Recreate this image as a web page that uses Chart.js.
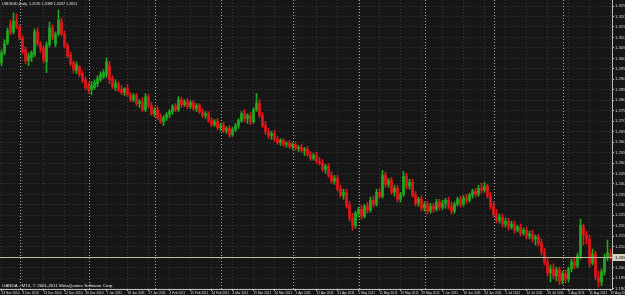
<!DOCTYPE html>
<html><head><meta charset="utf-8">
<script src="https://cdn.jsdelivr.net/npm/chart.js@4/dist/chart.umd.min.js"></script>
<style>html,body{margin:0;padding:0;background:#151515;overflow:hidden}canvas{display:block}</style>
</head><body>
<canvas id="c" width="625" height="295"></canvas>
<script>
const symbolTitle = 'USDSGD,Daily';
const copyright = 'OANDA - MT4, \u00A9 2001-2011 MetaQuotes Software Corp.';
const tickLabels = ['23 Nov 2010','3 Dec 2010','13 Dec 2010','22 Dec 2010','30 Dec 2010','7 Jan 2011','18 Jan 2011','27 Jan 2011','4 Feb 2011','15 Feb 2011','24 Feb 2011','4 Mar 2011','15 Mar 2011','24 Mar 2011','1 Apr 2011','12 Apr 2011','21 Apr 2011','2 May 2011','11 May 2011','19 May 2011','29 May 2011','7 Jun 2011','16 Jun 2011','24 Jun 2011','5 Jul 2011','14 Jul 2011','25 Jul 2011','2 Aug 2011','11 Aug 2011','19 Aug 2011'];
const monthStartBars = [6, 29, 51, 73, 97, 119, 141, 164, 187];

const openP = [
1.2979,1.3027,1.3074,1.3165,1.3127,1.3179,1.3150,1.3098,1.3041,1.2989,
1.3003,1.3017,1.3127,1.3070,1.3051,1.2984,1.3065,1.3146,1.3070,1.3117,
1.3174,1.3117,1.3060,1.3017,1.2979,1.2941,1.2960,1.2927,1.2898,1.2870,
1.2851,1.2860,1.2879,1.2898,1.2912,1.2922,1.2965,1.2903,1.2860,1.2879,
1.2851,1.2836,1.2855,1.2827,1.2803,1.2822,1.2784,1.2793,1.2755,1.2817,
1.2774,1.2736,1.2755,1.2717,1.2698,1.2717,1.2732,1.2746,1.2770,1.2755,
1.2803,1.2779,1.2793,1.2770,1.2789,1.2760,1.2774,1.2746,1.2727,1.2736,
1.2703,1.2684,1.2698,1.2670,1.2679,1.2655,1.2665,1.2636,1.2660,1.2679,
1.2703,1.2736,1.2713,1.2727,1.2698,1.2755,1.2784,1.2727,1.2679,1.2651,
1.2632,1.2641,1.2613,1.2598,1.2608,1.2589,1.2594,1.2579,1.2589,1.2570,
1.2575,1.2560,1.2565,1.2541,1.2522,1.2536,1.2508,1.2498,1.2470,1.2484,
1.2441,1.2413,1.2427,1.2375,1.2346,1.2360,1.2298,1.2237,1.2203,1.2260,
1.2279,1.2246,1.2294,1.2275,1.2322,1.2303,1.2360,1.2341,1.2441,1.2398,
1.2417,1.2360,1.2379,1.2327,1.2351,1.2436,1.2389,1.2408,1.2346,1.2308,
1.2327,1.2284,1.2303,1.2270,1.2294,1.2279,1.2313,1.2289,1.2308,1.2322,
1.2294,1.2270,1.2303,1.2327,1.2303,1.2332,1.2322,1.2346,1.2365,1.2351,
1.2379,1.2370,1.2389,1.2341,1.2294,1.2256,1.2227,1.2241,1.2208,1.2222,
1.2194,1.2208,1.2179,1.2194,1.2165,1.2179,1.2151,1.2160,1.2137,1.2146,
1.2118,1.2075,1.2027,1.1975,1.1994,1.1960,1.1989,1.1937,1.1970,1.1946,
1.1994,1.2027,1.2008,1.2056,1.2194,1.2156,1.2137,1.2022,1.2065,1.1956,
1.1932,1.1980,1.2046,1.2070];
const highP = [
1.3041,1.3089,1.3146,1.3184,1.3217,1.3212,1.3160,1.3108,1.3055,1.3027,
1.3036,1.3141,1.3146,1.3079,1.3060,1.3079,1.3174,1.3160,1.3127,1.3231,
1.3193,1.3131,1.3074,1.3031,1.2989,1.2984,1.2965,1.2941,1.2912,1.2884,
1.2889,1.2898,1.2917,1.2936,1.2946,1.3003,1.2984,1.2917,1.2898,1.2889,
1.2870,1.2860,1.2874,1.2836,1.2832,1.2832,1.2803,1.2813,1.2832,1.2827,
1.2789,1.2765,1.2770,1.2736,1.2727,1.2741,1.2755,1.2779,1.2784,1.2817,
1.2813,1.2803,1.2808,1.2798,1.2798,1.2784,1.2784,1.2760,1.2746,1.2746,
1.2717,1.2708,1.2713,1.2689,1.2694,1.2674,1.2679,1.2670,1.2689,1.2713,
1.2746,1.2755,1.2736,1.2741,1.2765,1.2832,1.2803,1.2741,1.2698,1.2665,
1.2651,1.2655,1.2627,1.2617,1.2617,1.2603,1.2608,1.2598,1.2598,1.2584,
1.2589,1.2575,1.2579,1.2555,1.2546,1.2551,1.2527,1.2517,1.2494,1.2498,
1.2460,1.2441,1.2441,1.2394,1.2375,1.2375,1.2317,1.2260,1.2270,1.2289,
1.2298,1.2303,1.2313,1.2337,1.2341,1.2375,1.2379,1.2465,1.2456,1.2427,
1.2432,1.2394,1.2394,1.2360,1.2460,1.2451,1.2422,1.2422,1.2365,1.2337,
1.2341,1.2313,1.2317,1.2308,1.2308,1.2327,1.2327,1.2322,1.2332,1.2337,
1.2313,1.2313,1.2337,1.2341,1.2346,1.2351,1.2356,1.2375,1.2379,1.2394,
1.2403,1.2408,1.2398,1.2360,1.2313,1.2279,1.2256,1.2256,1.2237,1.2237,
1.2222,1.2222,1.2203,1.2208,1.2189,1.2194,1.2175,1.2179,1.2156,1.2160,
1.2137,1.2094,1.2046,1.2013,1.2018,1.2003,1.2003,1.1984,1.1989,1.2003,
1.2041,1.2046,1.2070,1.2232,1.2208,1.2175,1.2156,1.2089,1.2079,1.1984,
1.1994,1.2065,1.2132,1.2089];
const lowP = [
1.2965,1.3017,1.3065,1.3112,1.3117,1.3141,1.3089,1.3022,1.2974,1.2965,
1.2984,1.3008,1.3060,1.3031,1.2979,1.2932,1.3055,1.3089,1.3055,1.3108,
1.3108,1.3051,1.3003,1.2965,1.2932,1.2927,1.2912,1.2884,1.2851,1.2836,
1.2827,1.2851,1.2865,1.2889,1.2903,1.2908,1.2879,1.2855,1.2846,1.2841,
1.2827,1.2822,1.2817,1.2793,1.2793,1.2774,1.2765,1.2746,1.2746,1.2765,
1.2727,1.2722,1.2708,1.2689,1.2679,1.2703,1.2717,1.2732,1.2746,1.2746,
1.2765,1.2770,1.2760,1.2760,1.2751,1.2746,1.2736,1.2717,1.2713,1.2694,
1.2674,1.2674,1.2660,1.2655,1.2646,1.2641,1.2622,1.2627,1.2651,1.2665,
1.2694,1.2698,1.2689,1.2684,1.2689,1.2746,1.2717,1.2670,1.2636,1.2617,
1.2613,1.2603,1.2589,1.2584,1.2579,1.2575,1.2570,1.2565,1.2560,1.2555,
1.2551,1.2536,1.2532,1.2513,1.2513,1.2498,1.2489,1.2460,1.2451,1.2432,
1.2403,1.2398,1.2365,1.2337,1.2327,1.2284,1.2222,1.2179,1.2189,1.2241,
1.2232,1.2237,1.2260,1.2265,1.2289,1.2294,1.2332,1.2332,1.2384,1.2384,
1.2351,1.2341,1.2313,1.2313,1.2341,1.2375,1.2375,1.2337,1.2294,1.2294,
1.2270,1.2270,1.2256,1.2260,1.2265,1.2270,1.2275,1.2279,1.2284,1.2279,
1.2256,1.2260,1.2294,1.2289,1.2294,1.2308,1.2313,1.2332,1.2337,1.2341,
1.2356,1.2360,1.2332,1.2279,1.2241,1.2213,1.2213,1.2194,1.2194,1.2179,
1.2184,1.2165,1.2170,1.2151,1.2156,1.2137,1.2137,1.2122,1.2108,1.2103,
1.2060,1.2013,1.1960,1.1932,1.1946,1.1937,1.1918,1.1922,1.1927,1.1932,
1.1980,1.1994,1.1999,1.2041,1.2108,1.2113,1.2003,1.2013,1.1941,1.1908,
1.1913,1.1965,1.2032,1.2037];
const closeP = [
1.3027,1.3070,1.3131,1.3122,1.3179,1.3150,1.3098,1.3031,1.2989,1.3012,
1.3027,1.3127,1.3070,1.3046,1.2993,1.3065,1.3146,1.3098,1.3117,1.3184,
1.3117,1.3060,1.3012,1.2974,1.2946,1.2970,1.2922,1.2893,1.2860,1.2851,
1.2870,1.2884,1.2903,1.2922,1.2932,1.2984,1.2898,1.2865,1.2879,1.2851,
1.2836,1.2855,1.2827,1.2803,1.2822,1.2784,1.2793,1.2755,1.2817,1.2774,
1.2736,1.2755,1.2717,1.2698,1.2717,1.2732,1.2746,1.2770,1.2755,1.2803,
1.2779,1.2793,1.2770,1.2789,1.2760,1.2774,1.2746,1.2727,1.2736,1.2703,
1.2684,1.2698,1.2670,1.2679,1.2655,1.2665,1.2636,1.2660,1.2679,1.2703,
1.2736,1.2713,1.2727,1.2698,1.2755,1.2784,1.2727,1.2679,1.2651,1.2632,
1.2641,1.2613,1.2598,1.2608,1.2589,1.2594,1.2579,1.2589,1.2570,1.2575,
1.2560,1.2565,1.2541,1.2522,1.2536,1.2508,1.2498,1.2470,1.2484,1.2441,
1.2413,1.2427,1.2375,1.2346,1.2360,1.2298,1.2237,1.2203,1.2260,1.2279,
1.2246,1.2294,1.2275,1.2322,1.2303,1.2360,1.2341,1.2441,1.2398,1.2417,
1.2360,1.2379,1.2327,1.2351,1.2436,1.2389,1.2408,1.2346,1.2308,1.2327,
1.2284,1.2303,1.2270,1.2294,1.2279,1.2313,1.2289,1.2308,1.2322,1.2294,
1.2270,1.2303,1.2327,1.2303,1.2332,1.2322,1.2346,1.2365,1.2351,1.2379,
1.2370,1.2389,1.2341,1.2294,1.2256,1.2227,1.2241,1.2208,1.2222,1.2194,
1.2208,1.2179,1.2194,1.2165,1.2179,1.2151,1.2160,1.2137,1.2146,1.2118,
1.2075,1.2027,1.1975,1.1994,1.1960,1.1989,1.1937,1.1970,1.1946,1.1994,
1.2027,1.2008,1.2056,1.2203,1.2156,1.2137,1.2022,1.2065,1.1956,1.1932,
1.1980,1.2046,1.2070,1.2051];

const categories = openP.map((_, i) => String(i));
const yMin = 1.1898, yMax = 1.3279, yStep = 0.005;

const BG = '#161616', BULL = '#1faa1f', BEAR = '#e3161b';
const FONT = 'Liberation Sans';
const colors = closeP.map((c, i) => c >= openP[i] ? BULL : BEAR);
const last = closeP.length - 1;
const bid = closeP[last];

const bgPlugin = {
  id: 'bg',
  beforeDraw(chart) {
    const ctx = chart.ctx;
    ctx.save(); ctx.fillStyle = BG; ctx.fillRect(0, 0, chart.width, chart.height); ctx.restore();
  }
};
const sepPlugin = {
  id: 'sep',
  beforeDatasetsDraw(chart) {
    const {ctx, chartArea: a, scales: {x}} = chart;
    ctx.save(); ctx.strokeStyle = '#a8a8a8'; ctx.lineWidth = 1; ctx.setLineDash([1, 2]);
    monthStartBars.forEach(b => {
      const px = Math.round(x.getPixelForValue(b)) + 0.5;
      ctx.beginPath(); ctx.moveTo(px, a.top); ctx.lineTo(px, a.bottom); ctx.stroke();
    });
    ctx.restore();
  }
};
const bidPlugin = {
  id: 'bid',
  afterDatasetsDraw(chart) {
    const {ctx, chartArea: a, scales: {y}} = chart;
    const py = Math.round(y.getPixelForValue(bid)) + 0.5;
    ctx.save(); ctx.strokeStyle = '#c2bc9e'; ctx.lineWidth = 1;
    ctx.beginPath(); ctx.moveTo(a.left, py); ctx.lineTo(a.right, py); ctx.stroke();
    ctx.restore();
  },
  afterDraw(chart) {
    const {ctx, chartArea: a, scales: {y}} = chart;
    const py = Math.round(y.getPixelForValue(bid));
    ctx.save();
    ctx.fillStyle = '#d6d2c0'; ctx.fillRect(a.right + 1, py - 3, chart.width - a.right - 1, 7);
    ctx.fillStyle = '#000'; ctx.font = '4.2px "' + FONT + '"'; ctx.textBaseline = 'middle'; ctx.textAlign = 'left';
    ctx.fillText(bid.toFixed(4), a.right + 3, py + 0.5);
    ctx.fillStyle = '#e6e6e6'; ctx.textBaseline = 'top';
    ctx.font = '3.7px "' + FONT + '"';
    ctx.fillText(symbolTitle + '  ' + openP[last].toFixed(4) + ' ' + highP[last].toFixed(4) + ' ' + lowP[last].toFixed(4) + ' ' + closeP[last].toFixed(4), 2, 2);
    ctx.textBaseline = 'alphabetic'; ctx.font = '4.4px "' + FONT + '"';
    ctx.fillText(copyright, 2, 287);
    ctx.restore();
  }
};

new Chart(document.getElementById('c'), {
  type: 'bar',
  data: {
    labels: categories,
    datasets: [
      { label: 'range', data: lowP.map((l, i) => [l, highP[i]]), backgroundColor: colors, barThickness: 1, grouped: false, borderWidth: 0, minBarLength: 1 },
      { label: 'body', data: openP.map((o, i) => [o, closeP[i]]), backgroundColor: colors, barThickness: 2, grouped: false, borderWidth: 0, minBarLength: 1 }
    ]
  },
  options: {
    responsive: false, animation: false, devicePixelRatio: 1,
    layout: { padding: 0, autoPadding: false },
    plugins: { legend: { display: false }, tooltip: { enabled: false }, title: { display: false } },
    scales: {
      x: {
        type: 'category', offset: true,
        grid: { offset: false, color: '#383838', lineWidth: 1, tickLength: 2, tickColor: '#bdbdbd' },
        border: { display: true, color: '#bdbdbd', width: 1, dash: [1, 2] },
        ticks: {
          autoSkip: false, maxRotation: 0, minRotation: 0, align: 'start', padding: 0,
          color: '#dcdcdc', font: { family: FONT, size: 3.2 },
          callback: (v, i) => (i % 7 === 0 && tickLabels[i / 7]) ? tickLabels[i / 7] : null
        },
        afterFit(s) { s.height = 6; s.paddingLeft = 0; s.paddingRight = 0; }
      },
      y: {
        position: 'right', min: yMin, max: yMax,
        grid: { color: '#383838', lineWidth: 1, tickLength: 2, tickColor: '#bdbdbd' },
        border: { display: true, color: '#bdbdbd', width: 1, dash: [1, 2] },
        ticks: {
          stepSize: yStep, includeBounds: false, maxTicksLimit: 200, autoSkip: false, padding: 1,
          color: '#dcdcdc', font: { family: FONT, size: 4.2 },
          callback: v => Number(v).toFixed(4)
        },
        afterFit(s) { s.width = 13; s.paddingTop = 0; s.paddingBottom = 0; }
      }
    }
  },
  plugins: [bgPlugin, sepPlugin, bidPlugin]
});
</script>
</body></html>
